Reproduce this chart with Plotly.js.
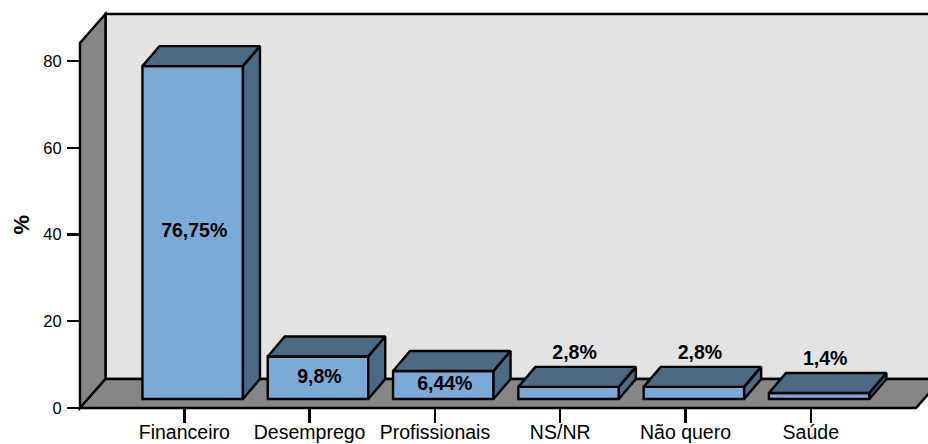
<!DOCTYPE html>
<html>
<head>
<meta charset="utf-8">
<script src="https://cdn.plot.ly/plotly-3.0.1.min.js"></script>
<style>html,body{margin:0;padding:0;background:#fff;overflow:hidden}#chart{width:928px;height:444px}</style>
</head>
<body>
<div id="chart"></div>
<script>
// Data
const categories = ['Financeiro','Desemprego','Profissionais','NS/NR','Não quero','Saúde'];
const values = [76.75, 9.8, 6.44, 2.8, 2.8, 1.4];
const labels = ['76,75%','9,8%','6,44%','2,8%','2,8%','1,4%'];
const yTicks = [0,20,40,60,80];

// Scale: pixel size of one unit on each axis
const W = 928, H = 444;
const pxPerCat = 125.3, pxPerVal = 4.3375;
const originX = 184.3, originY = 408;   // pixel of category 0 and of value 0
const ux = p => p / pxPerCat, uy = p => p / pxPerVal;

const xRange = [-originX / pxPerCat, (W - originX) / pxPerCat];
const yRange = [-(H - originY) / pxPerVal, originY / pxPerVal];
const axisLeftCat = ux(80 - originX);
const floorRightCat = ux(916 - originX);
const roomDx = ux(25.5), roomDy = uy(29);
const wallTop = uy(originY - 43);
const barDx = ux(17), barDy = uy(20);
const barBase = uy(9), barShift = ux(8.4), barWidth = 100.5 / pxPerCat;
const INK = '#000000', FRONT = '#7CAAD7', DARK = '#4D6A85', WALL = '#E3E3E3', GREY = '#868686';
const STROKE = 2.4;

const poly = pts => 'M' + pts.map(p => p[0] + ',' + p[1]).join('L') + 'Z';
const roomShape = (pts, fill) => ({type:'path', xref:'x', yref:'y', layer:'below', path:poly(pts),
  fillcolor:fill, line:{color:INK, width:STROKE}});

const x0 = axisLeftCat, x1 = floorRightCat;
const shapes = [
  roomShape([[x0+roomDx,roomDy],[x1+roomDx,roomDy],[x1+roomDx,wallTop+roomDy],[x0+roomDx,wallTop+roomDy]], WALL),
  roomShape([[x0,0],[x0,wallTop],[x0+roomDx,wallTop+roomDy],[x0+roomDx,roomDy]], GREY),
  roomShape([[x0,0],[x1,0],[x1+roomDx,roomDy],[x0+roomDx,roomDy]], GREY)
];

// Faces of the bars, derived from the values
const fx = [], fy = [];
values.forEach((v,i) => {
  const l = i + barShift - barWidth/2, r = i + barShift + barWidth/2, b = barBase, t = barBase + v;
  [[[r,b],[r,t],[r+barDx,t+barDy],[r+barDx,b+barDy],[r,b]],
   [[l,t],[r,t],[r+barDx,t+barDy],[l+barDx,t+barDy],[l,t]]].forEach(face => {
    face.forEach(p => { fx.push(p[0]); fy.push(p[1]); });
    fx.push(null); fy.push(null);
  });
});

const insideCount = 3;
const labelX = values.map((v,i) => i < insideCount ? i + barShift + ux(1.5) : i + barShift + ux(6));
const labelY = values.map((v,i) => i < insideCount ? barBase + v/2 : barBase + v + barDy + uy(13));

const traces = [
  {type:'bar', x:categories.map((c,i)=>i), y:values, base:barBase, width:barWidth, offset:barShift - barWidth/2,
   marker:{color:FRONT, line:{color:INK, width:STROKE}}, hoverinfo:'skip', showlegend:false},
  {type:'scatter', mode:'lines', x:fx, y:fy, fill:'toself', fillcolor:DARK, line:{color:INK, width:STROKE},
   hoverinfo:'skip', showlegend:false},
  {type:'scatter', mode:'text', x:labelX, y:labelY, text:labels, textposition:'middle center',
   textfont:{family:'Liberation Sans, Arial, sans-serif', size:19.5, color:INK}, hoverinfo:'skip', showlegend:false,
   texttemplate:'<b>%{text}</b>'}
];

const layout = {
  width:W, height:H, margin:{l:0,r:0,t:0,b:0}, paper_bgcolor:'#fff', plot_bgcolor:'#fff', showlegend:false,
  font:{family:'Liberation Sans, Arial, sans-serif', color:INK},
  xaxis:{range:xRange, anchor:'free', position:(H-originY)/H, tickmode:'array', tickvals:categories.map((c,i)=>i), ticktext:categories,
    ticks:'outside', ticklen:14, tickwidth:2.4, tickcolor:INK, showgrid:false, zeroline:false, showline:false, ticklabelstandoff:-7,
    tickfont:{size:19.5, color:INK}, fixedrange:true},
  yaxis:{range:yRange, anchor:'free', position:80/W, tickmode:'array', tickvals:yTicks,
    ticks:'outside', ticklen:13, tickwidth:2.4, tickcolor:INK, showgrid:false, zeroline:false, showline:false, ticklabelstandoff:2,
    tickfont:{size:16.5, color:INK}, fixedrange:true},
  shapes:shapes,
  annotations:[{text:'<b>%</b>', xref:'paper', yref:'paper', x:20.5/W, y:(H-225)/H, xanchor:'center', yanchor:'middle', showarrow:false, textangle:-90,
    font:{size:22, color:INK}}]
};
Plotly.newPlot('chart', traces, layout, {displayModeBar:false, staticPlot:true});
</script>
</body>
</html>
